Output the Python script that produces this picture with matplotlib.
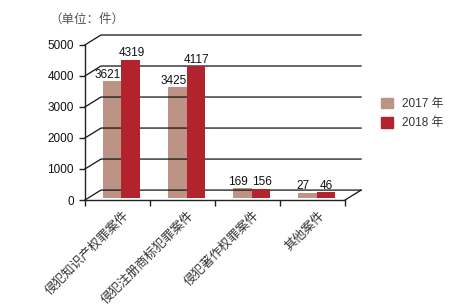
import numpy as np
import matplotlib
matplotlib.use('Agg')
import matplotlib.pyplot as plt
from matplotlib.patches import Patch

plt.rcParams['font.family'] = ['Liberation Sans', 'Noto Sans CJK SC', 'DejaVu Sans']

# ----------------------------------------------------------------------------
# Datos
# ----------------------------------------------------------------------------
categorias = ['侵犯知识产权罪案件', '侵犯注册商标犯罪案件', '侵犯著作权罪案件', '其他案件']
casos_2017 = [3621, 3425, 169, 27]
casos_2018 = [4319, 4117, 156, 46]
series = ['2017 年', '2018 年']
yticks = [0, 1000, 2000, 3000, 4000, 5000]

color_2017 = '#BC9385'
color_2018 = '#B3232E'
texto = '#333333'

# pseudo 3D: desplazamiento de fondo (en unidades de categoria / valor)
dx, dy = 0.246, 320
prof = 0.2       # frente de las barras dentro de la profundidad
prof_bar = 0.45  # profundidad de la barra (cara superior)
ancho = 0.29

fig = plt.figure(figsize=(4.72, 3.07), dpi=100)
ax = fig.add_axes([0.180, 0.3485, 0.585, 0.5375])
n = len(categorias)
ax.set_xlim(0, n + dx)
ax.set_ylim(0, yticks[-1] + dy)

# ejes frontales
for s in ['top', 'right']:
    ax.spines[s].set_visible(False)
ax.spines['left'].set_bounds(0, yticks[-1])
ax.spines['bottom'].set_bounds(0, n)
for s in ['left', 'bottom']:
    ax.spines[s].set_linewidth(1.0)
    ax.spines[s].set_color('#222222')
ax.set_yticks(yticks)
ax.set_xticks(np.arange(n + 1))
ax.set_xticklabels([])
ax.tick_params(axis='both', direction='out', length=4, width=1.0, colors='#222222',
               labelsize=8.5, labelcolor='#111111', pad=4)

# lineas de fondo (rejilla + piso)
for v in yticks:
    ax.plot([0, dx, n + dx], [v, v + dy, v + dy], color='#111111', lw=0.9, zorder=2,
            clip_on=False)
ax.plot([n, n + dx], [0, dy], color='#111111', lw=0.9, zorder=2, clip_on=False)

# barras (silueta: desde el frente del piso hasta la cara superior trasera)
x = np.arange(n) + 0.5 + (prof + 0.05) * dx
base = prof * dy
extra = prof_bar * dy
alt_2017 = [v + extra for v in casos_2017]
alt_2018 = [v + extra for v in casos_2018]
ax.bar(x - ancho / 2, alt_2017, width=ancho, bottom=base, color=color_2017, zorder=1)
ax.bar(x + ancho / 2, alt_2018, width=ancho, bottom=base, color=color_2018, zorder=3)

# etiquetas de valor
for xi, v, h in zip(x - ancho / 2 - 0.06, casos_2017, alt_2017):
    ax.text(xi, h + base + 10, str(v), ha='center', va='bottom', fontsize=8.5,
            color='#111111', zorder=4)
for xi, v, h in zip(x + ancho / 2 + 0.01, casos_2018, alt_2018):
    ax.text(xi, h + base + 10, str(v), ha='center', va='bottom', fontsize=8.5,
            color='#111111', zorder=4)

# etiquetas de categoria
for i, cat in enumerate(categorias):
    ax.text(i + 0.65, -420, cat, rotation=45, rotation_mode='anchor',
            ha='right', va='center', fontsize=9, color=texto,
            family=['Noto Sans CJK SC', 'DejaVu Sans'])

# titulo de unidades
fig.text(0.105, 0.938, '（单位：件）', fontsize=9, color='#555555', ha='left', va='center',
         family=['Noto Sans CJK SC', 'DejaVu Sans'])

# leyenda
handles = [Patch(color=color_2017), Patch(color=color_2018)]
fig.legend(handles, series, loc='center left', bbox_to_anchor=(0.785, 0.63),
           frameon=False, fontsize=8.5, handlelength=1.0, handleheight=1.0,
           handletextpad=0.8, labelspacing=0.6, labelcolor='#333333')

fig.savefig('out.png', dpi=100)
